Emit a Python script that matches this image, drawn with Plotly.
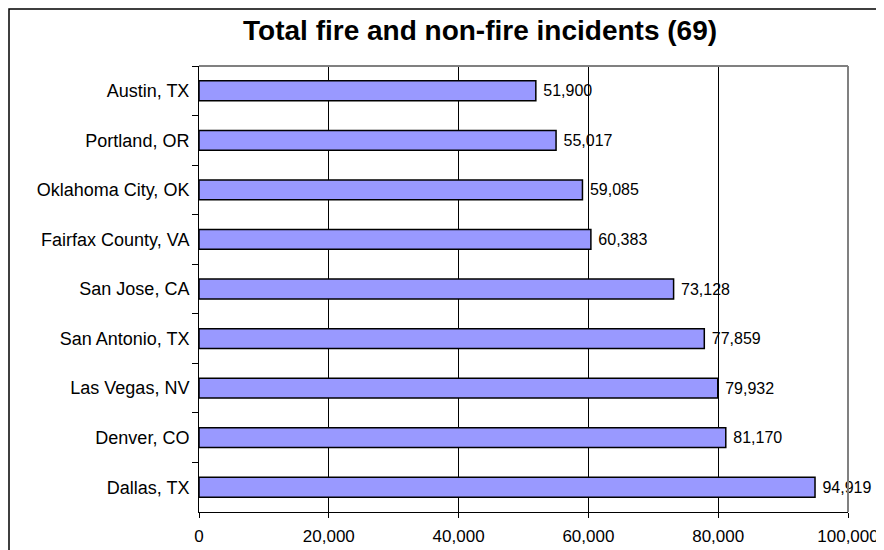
import plotly.graph_objects as go

cities = ["Austin, TX", "Portland, OR", "Oklahoma City, OK", "Fairfax County, VA",
          "San Jose, CA", "San Antonio, TX", "Las Vegas, NV", "Denver, CO", "Dallas, TX"]
incidents = [51900, 55017, 59085, 60383, 73128, 77859, 79932, 81170, 94919]
x_ticks = [0, 20000, 40000, 60000, 80000, 100000]

fig = go.Figure()
fig.add_trace(go.Bar(
    y=cities,
    x=incidents,
    orientation="h",
    marker=dict(color="#9999FF", line=dict(color="black", width=1.5)),
    text=[f" {v:,}" for v in incidents],
    textposition="outside",
    constraintext="none",
    cliponaxis=False,
    textfont=dict(family="Arial, Liberation Sans", size=16, color="black"),
    width=0.4,
))

fig.update_layout(
    width=884, height=550,
    margin=dict(l=191, r=44, t=58, b=46),
    plot_bgcolor="white",
    paper_bgcolor="white",
    showlegend=False,
    title=dict(text="<b>Total fire and non-fire incidents (69)</b>",
               x=0.534, xanchor="center", y=0.96, yanchor="middle",
               font=dict(family="Arial, Liberation Sans", size=28, color="black")),
    font=dict(family="Arial, Liberation Sans", size=18, color="black"),
)
fig.update_xaxes(
    range=[0, 100000], tickvals=x_ticks, tickformat=",",
    showgrid=True, gridcolor="black", gridwidth=1,
    showline=True, linecolor="black", linewidth=1,
    ticks="outside", ticklen=5, tickcolor="black",
    zeroline=False, tickfont=dict(size=17), ticklabelstandoff=4,
)
fig.update_yaxes(
    autorange="reversed", showline=True, linecolor="black", linewidth=1,
    ticks="outside", ticklen=6, tickcolor="black", tickson="boundaries",
    showgrid=False, tickfont=dict(size=18), ticklabelstandoff=5,
)
# grey plot-area border on top and right
fig.add_shape(type="line", xref="paper", yref="paper", x0=0, x1=1, y0=1, y1=1,
              line=dict(color="#808080", width=2))
fig.add_shape(type="line", xref="paper", yref="paper", x0=1, x1=1, y0=0, y1=1,
              line=dict(color="#808080", width=2))
# outer chart border (right and bottom edges fall outside the window)
fig.add_shape(type="rect", xref="paper", yref="paper",
              x0=-190 / 649, x1=1.5, y0=-0.5, y1=1 + 57 / 446,
              line=dict(color="black", width=1.5), layer="below")

fig.write_html("out.html")
